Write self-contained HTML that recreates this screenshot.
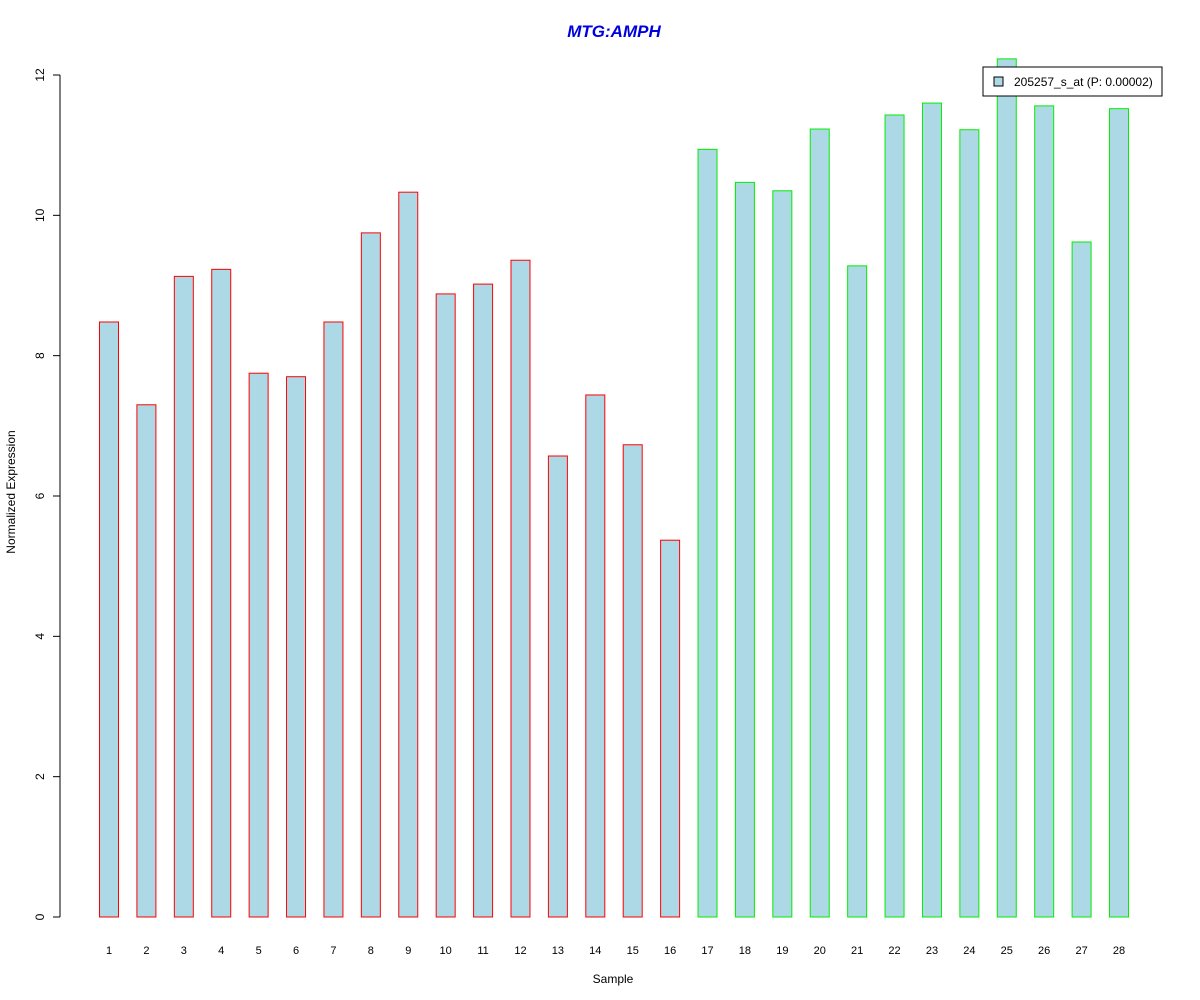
<!DOCTYPE html>
<html><head><meta charset="utf-8"><style>
body{margin:0;background:#fff}
svg{display:block;font-family:"Liberation Sans",Arial,sans-serif}
</style></head><body>
<svg id="chart" width="1200" height="1000">
<rect width="1200" height="1000" fill="#fff"/>
<text x="614" y="37" text-anchor="middle" font-size="17" font-weight="bold" font-style="italic" fill="#0000dd">MTG:AMPH</text>
<text x="613" y="983" text-anchor="middle" font-size="12">Sample</text>
<text transform="translate(15,492) rotate(-90)" text-anchor="middle" font-size="12">Normalized Expression</text>
<g id="yaxis"></g>
<g id="bars"></g>
<g id="xlabels"></g>
<g>
<rect x="983" y="67" width="179" height="29" fill="#fff" stroke="#000"/>
<rect x="994" y="77" width="9" height="9" fill="#add8e6" stroke="#000"/>
<text x="1014" y="86" font-size="12">205257_s_at (P: 0.00002)</text>
</g>
</svg>
<script>
const categories=["1","2","3","4","5","6","7","8","9","10","11","12","13","14","15","16","17","18","19","20","21","22","23","24","25","26","27","28"];
const values=[8.48,7.30,9.13,9.23,7.75,7.70,8.48,9.75,10.33,8.88,9.02,9.36,6.57,7.44,6.73,5.37,10.94,10.47,10.35,11.23,9.28,11.43,11.60,11.22,12.23,11.56,9.62,11.52];
const groups=["red","red","red","red","red","red","red","red","red","red","red","red","red","red","red","red","green","green","green","green","green","green","green","green","green","green","green","green"];
const yTicks=[0,2,4,6,8,10,12];
const NS="http://www.w3.org/2000/svg";
const y=v=>917-v*(842/12);
const x=i=>109+i*(1010/27);
const ya=document.getElementById('yaxis');
function mk(t,a,p){const e=document.createElementNS(NS,t);for(const k in a)e.setAttribute(k,a[k]);p.appendChild(e);return e;}
const axl=mk('line',{x1:60,x2:60,y1:y(0),y2:y(12),stroke:'#000'},ya);


yTicks.forEach(t=>{
 const l=mk('line',{x1:53,x2:60,y1:y(t),y2:y(t),stroke:'#000'},ya);
 
 
 const tx=mk('text',{transform:`translate(44,${y(t)}) rotate(-90)`,'text-anchor':'middle','font-size':12},ya);
 tx.textContent=t;
 
 
});
const bg=document.getElementById('bars'),xl=document.getElementById('xlabels');
values.forEach((v,i)=>{
 const r=mk('rect',{x:x(i)-9.5,y:y(v),width:19,height:y(0)-y(v),fill:'#add8e6',stroke:groups[i]==='red'?'#ff0000':'#00ee00'},bg);
 
 
 const t=mk('text',{x:x(i),y:954,'text-anchor':'middle','font-size':11},xl);
 t.textContent=categories[i];
 
 
});
</script>
</body></html>
